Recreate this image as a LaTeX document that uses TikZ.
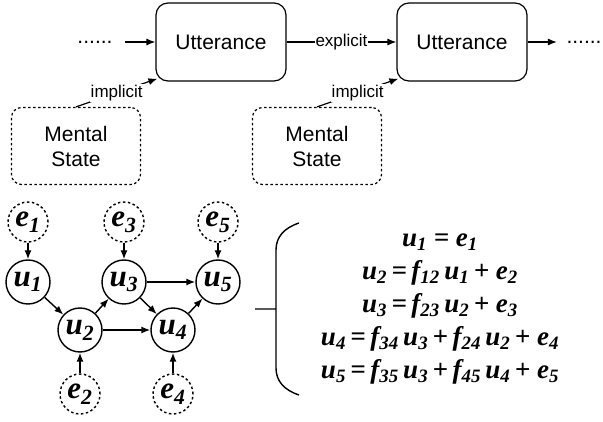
\documentclass[tikz,border=0pt]{standalone}
\usepackage{fontspec}
\setmainfont{Liberation Serif}[BoldItalicFont={Liberation Serif Bold Italic}]
\setsansfont{Liberation Sans}
\usetikzlibrary{arrows.meta, calc}

\begin{document}
\begin{tikzpicture}[x=1pt, y=-1pt, line width=1.2pt, >={Latex[length=9pt,width=7pt]},
        utter/.style={draw, rounded corners=12pt, minimum width=130pt, minimum height=78pt, font=\sffamily\fontsize{21}{25}\selectfont},
        mental/.style={draw, dash pattern=on 2.5pt off 2.5pt, rounded corners=10pt, minimum width=129pt, minimum height=77pt, align=center, font=\sffamily\fontsize{21}{25}\selectfont},
        tag/.style={fill=white, inner sep=1pt, font=\sffamily\fontsize{17}{20}\selectfont},
        etc/.style={inner sep=0pt, font=\sffamily\fontsize{21}{25}\selectfont},
        var/.style={circle, draw, line width=1.4pt, minimum size=44pt, inner sep=0pt, font=\rmfamily\bfseries\itshape\fontsize{31}{32}\selectfont},
        noise/.style={var, dash pattern=on 2.5pt off 2.5pt, minimum size=40pt}]
        \useasboundingbox (0,0) rectangle (603,422);

        % utterances and mental states
        \node[etc] (pre) at (95,42) {......};
        \node[utter] (utt1) at (221,42) {Utterance};
        \node[utter] (utt2) at (462,42) {Utterance};
        \node[etc] (post) at (584,42) {......};
        \node[mental] (ms1) at (76,146) {Mental\\State};
        \node[mental] (ms2) at (317,146) {Mental\\State};

        \draw[->, shorten <=12pt] (pre) -- (utt1);
        \draw[->] (utt1) -- node[tag] {explicit} (utt2);
        \draw[->, shorten >=9pt] (utt2) -- (post);
        \draw[->] (ms1.north) -- node[tag] {implicit} ($(utt1.south west)+(2,-3)$);
        \draw[->] (ms2.north) -- node[tag] {implicit} ($(utt2.south west)+(2,-3)$);

        % causal graph
        \node[var] (u1) at (28,282) {u\textsubscript{1}};
        \node[var] (u2) at (80,330) {u\textsubscript{2}};
        \node[var] (u3) at (124,282) {u\textsubscript{3}};
        \node[var] (u4) at (173,330) {u\textsubscript{4}};
        \node[var] (u5) at (218,282) {u\textsubscript{5}};
        \node[noise] (e1) at (28,222) {e\textsubscript{1}};
        \node[noise] (e2) at (80,394) {e\textsubscript{2}};
        \node[noise] (e3) at (124,222) {e\textsubscript{3}};
        \node[noise] (e4) at (173,394) {e\textsubscript{4}};
        \node[noise] (e5) at (218,222) {e\textsubscript{5}};

        \draw[->, line width=1.4pt] (e1) edge (u1)
            (e2) edge (u2)
            (e3) edge (u3)
            (e4) edge (u4)
            (e5) edge (u5)
            (u1) edge (u2)
            (u2) edge (u3)
            (u2) edge (u4)
            (u3) edge (u4)
            (u3) edge (u5)
            (u4) edge (u5);

        % equations
        \draw[line width=1.4pt] (299,223) .. controls (284,228) and (276,237) .. (276,250)
            -- (276,368) .. controls (276,381) and (284,390) .. (299,395)
            (255,309) -- (276,309);
        \node[align=center, font=\rmfamily\bfseries\itshape\fontsize{27}{33}\selectfont] (eqs) at (440,309)
            {u\textsubscript{1} = e\textsubscript{1}\\
            u\textsubscript{2}\,=\,f\textsubscript{12}\,u\textsubscript{1}\,+ e\textsubscript{2}\\
            u\textsubscript{3}\,=\,f\textsubscript{23}\,u\textsubscript{2}\,+ e\textsubscript{3}\\
            u\textsubscript{4}\,=\,f\textsubscript{34}\,u\textsubscript{3}\,+\,f\textsubscript{24}\,u\textsubscript{2}\,+ e\textsubscript{4}\\
            u\textsubscript{5}\,=\,f\textsubscript{35}\,u\textsubscript{3}\,+\,f\textsubscript{45}\,u\textsubscript{4}\,+ e\textsubscript{5}};
    \end{tikzpicture}
\end{document}
